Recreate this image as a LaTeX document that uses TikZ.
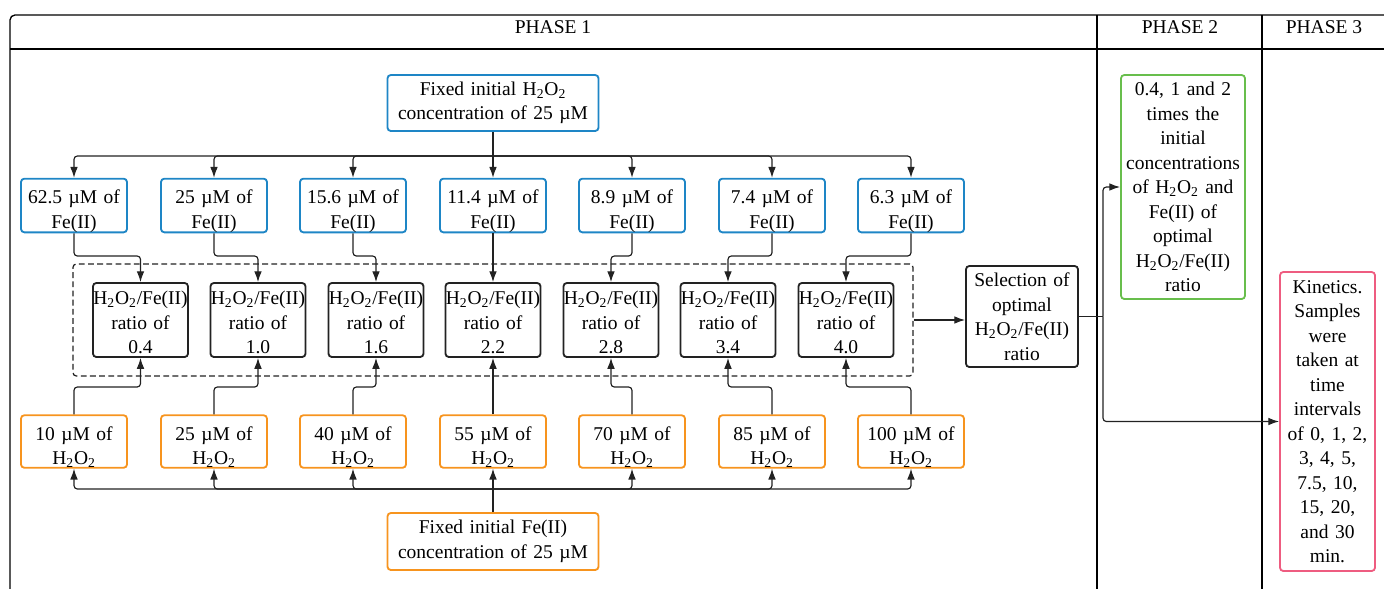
\documentclass[tikz,border=0pt]{standalone}
\usepackage{fontspec}
\setmainfont{Liberation Serif}
\usetikzlibrary{arrows.meta,calc}
\definecolor{cblue}{RGB}{30,134,198}
\definecolor{corange}{RGB}{247,148,30}
\definecolor{cgreen}{RGB}{104,190,76}
\definecolor{cpink}{RGB}{238,92,128}
\definecolor{cdark}{RGB}{34,34,34}
\newcommand\hho{H\textsubscript{2}O\textsubscript{2}}
\newcommand\um{µM}
\newcommand\fnt{\fontsize{11.7}{14.7}\selectfont}
\newcommand\pxu{0.6pt}
\tikzset{
  box/.style={draw, rounded corners=2pt, line width=1.1pt, align=center, inner sep=0pt, font=\fnt},
  smallbox/.style={box, minimum width=106*\pxu, minimum height=49*\pxu, text width=104*\pxu, execute at begin node={\rule{0pt}{15pt}}},
  bluebox/.style={smallbox, draw=cblue},
  orangebox/.style={smallbox, draw=corange},
  ratiobox/.style={box, draw=cdark, minimum width=95*\pxu, minimum height=74*\pxu, text width=95*\pxu, execute at begin node={\rule{0pt}{11pt}}},
  conn/.style={draw=cdark, line width=0.7pt, rounded corners=2pt, -{Latex[length=6.5pt,width=4.6pt]}},
  plain/.style={draw=cdark, line width=0.7pt, rounded corners=2pt},
  frame/.style={draw=black, line width=0.8pt},
  header/.style={font=\fnt, inner sep=0pt}
}
\begin{document}
\begin{tikzpicture}[x=0.6pt,y=-0.6pt]
\useasboundingbox (0,0) rectangle (1384,588);
% frame
\draw[frame, rounded corners=3pt] (10,600) -- (10,15) -- (1400,15);
\draw[frame] (10,49) -- (1400,49);
\draw[frame] (1097,15) -- (1097,600);
\draw[frame] (1262,15) -- (1262,600);
\node[header] (ph1) at (553,27) {PHASE 1};
\node[header] (ph2) at (1180,27) {PHASE 2};
\node[header] (ph3) at (1324,27) {PHASE 3};
% top and bottom boxes
\node[box, draw=cblue, minimum width=211*\pxu, minimum height=56*\pxu, text width=205*\pxu] (top) at (493,103) {Fixed initial \hho\\concentration of 25 \um};
\node[box, draw=corange, minimum width=211*\pxu, minimum height=57*\pxu, text width=205*\pxu] (bot) at (493,541.5) {Fixed initial Fe(II)\\concentration of 25 \um};
% Fe boxes
\node[bluebox] (fe1) at (74,205.5) {62.5 \um{} of\\Fe(II)};
\node[bluebox] (fe2) at (214,205.5) {25 \um{} of\\Fe(II)};
\node[bluebox] (fe3) at (353,205.5) {15.6 \um{} of\\Fe(II)};
\node[bluebox] (fe4) at (493,205.5) {11.4 \um{} of\\Fe(II)};
\node[bluebox] (fe5) at (632,205.5) {8.9 \um{} of\\Fe(II)};
\node[bluebox] (fe6) at (772,205.5) {7.4 \um{} of\\Fe(II)};
\node[bluebox] (fe7) at (911,205.5) {6.3 \um{} of\\Fe(II)};
% H2O2 boxes
\node[orangebox] (h1) at (74,441.5) {10 \um{} of\\\hho};
\node[orangebox] (h2) at (214,441.5) {25 \um{} of\\\hho};
\node[orangebox] (h3) at (353,441.5) {40 \um{} of\\\hho};
\node[orangebox] (h4) at (493,441.5) {55 \um{} of\\\hho};
\node[orangebox] (h5) at (632,441.5) {70 \um{} of\\\hho};
\node[orangebox] (h6) at (772,441.5) {85 \um{} of\\\hho};
\node[orangebox] (h7) at (911,441.5) {100 \um{} of\\\hho};
% dashed group
\node[draw=cdark, line width=0.75pt, dash pattern=on 3.5pt off 2pt, rounded corners=2pt, minimum width=840*\pxu, minimum height=112*\pxu, inner sep=0pt] (grp) at (493,320) {};
% ratio boxes
\node[ratiobox] (r1) at (140.5,320) {\hho/Fe(II)\\ratio of\\0.4};
\node[ratiobox] (r2) at (258,320) {\hho/Fe(II)\\ratio of\\1.0};
\node[ratiobox] (r3) at (376,320) {\hho/Fe(II)\\ratio of\\1.6};
\node[ratiobox] (r4) at (493,320) {\hho/Fe(II)\\ratio of\\2.2};
\node[ratiobox] (r5) at (611,320) {\hho/Fe(II)\\ratio of\\2.8};
\node[ratiobox] (r6) at (728,320) {\hho/Fe(II)\\ratio of\\3.4};
\node[ratiobox] (r7) at (846,320) {\hho/Fe(II)\\ratio of\\4.0};
% selection
\node[box, draw=cdark, minimum width=112*\pxu, minimum height=101*\pxu, text width=110*\pxu] (sel) at (1022,316.5) {Selection of\\optimal\\\hho/Fe(II)\\ratio};
% phase 2 and 3
\node[box, draw=cgreen, minimum width=124*\pxu, minimum height=224*\pxu, text width=124*\pxu] (grn) at (1183,187) {0.4, 1 and 2\\times the\\initial\\concentrations\\of \hho{} and\\Fe(II) of\\optimal\\\hho/Fe(II)\\ratio};
\node[box, draw=cpink, minimum width=95*\pxu, minimum height=299*\pxu, text width=95*\pxu] (pnk) at (1327.5,421.5) {Kinetics.\\Samples\\were\\taken at\\time\\intervals\\of 0, 1, 2,\\3, 4, 5,\\7.5, 10,\\15, 20,\\and 30\\min.};
% top bus
\coordinate (busT) at (493,156);
\draw[conn] (top.south) -- (fe4.north);
\foreach \i in {1,2,3,5,6,7} { \draw[conn] (busT) -| (fe\i.north); }
% Fe -> ratio
\foreach \i in {1,2,3,5,6,7} { \draw[conn] (fe\i.south) -- (fe\i.south |- 0,256) -| (r\i.north); }
\draw[conn] (fe4.south) -- (r4.north);
% bottom bus
\coordinate (busB) at (493,489);
\draw[conn] (bot.north) -- (h4.south);
\foreach \i in {1,2,3,5,6,7} { \draw[conn] (busB) -| (h\i.south); }
% H2O2 -> ratio
\foreach \i in {1,2,3,5,6,7} { \draw[conn] (h\i.north) -- (h\i.north |- 0,387) -| (r\i.south); }
\draw[conn] (h4.north) -- (r4.south);
% group -> selection
\draw[conn] (grp.east) -- (sel.west |- grp.east);
% selection -> phase 2, 3
\coordinate (jn) at (1103,316.5);
\draw[plain] (sel.east) -- (jn);
\draw[conn] (jn) |- (grn.west);
\draw[conn] (jn) |- (pnk.west);
\end{tikzpicture}
\end{document}
